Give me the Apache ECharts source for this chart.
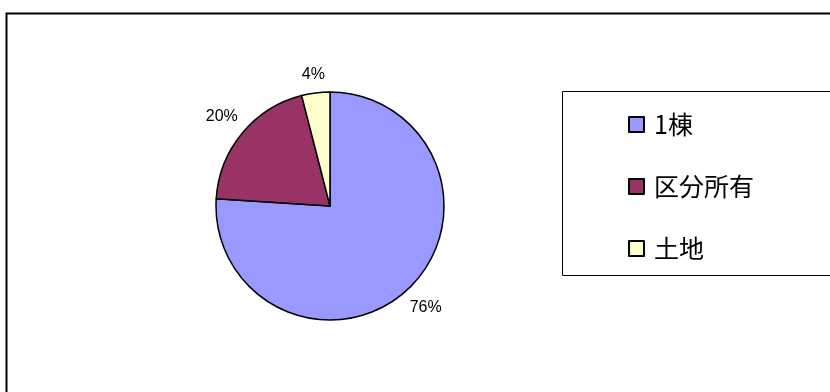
<!DOCTYPE html>
<html>
<head>
<meta charset="utf-8">
<script src="https://cdn.jsdelivr.net/npm/echarts@6/dist/echarts.min.js"></script>
<style>
html,body{margin:0;padding:0;background:#fff;}
#main{width:830px;height:392px;}
</style>
</head>
<body>
<div id="main"></div>
<script>
var categories = ['1棟', '区分所有', '土地'];
var values = [76, 20, 4];
var colors = ['#9999FF', '#993366', '#FFFFCC'];

var PIE_CX = 330, PIE_CY = 206, PIE_R = 114, LABEL_GAP = 9;
var total = values.reduce(function (a, b) { return a + b; }, 0);

var chart = echarts.init(document.getElementById('main'), null, {renderer: 'canvas'});
var data = categories.map(function (c, i) {
  return {name: c, value: values[i], itemStyle: {color: colors[i]}};
});
chart.setOption({
  animation: false,
  backgroundColor: '#fff',
  graphic: [
    {type: 'rect', shape: {x: 6.5, y: 13.5, width: 900, height: 500}, style: {fill: 'none', stroke: '#000', lineWidth: 2}, z: 0},
    {type: 'rect', shape: {x: 562.5, y: 91.5, width: 300, height: 184}, style: {fill: '#fff', stroke: '#000', lineWidth: 1}, z: 1}
  ],
  legend: {
    orient: 'vertical',
    left: 623,
    top: 107,
    itemWidth: 15,
    itemHeight: 15,
    itemGap: 37,
    icon: 'rect',
    z: 5,
    textStyle: {fontFamily: '"Noto Sans CJK JP", sans-serif', fontSize: 25, color: '#000', padding: [0, 0, 0, 5]},
    data: categories
  },
  series: [{
    type: 'pie',
    center: [PIE_CX, PIE_CY],
    radius: [0, PIE_R],
    startAngle: 90,
    clockwise: true,
    data: data,
    itemStyle: {borderColor: '#000', borderWidth: 1.5},
    label: {
      show: true,
      position: 'outside',
      formatter: '{c}%',
      fontFamily: '"Liberation Sans", Arial, sans-serif',
      fontSize: 16,
      color: '#000'
    },
    labelLine: {show: false, length: 14, length2: 0},
    labelLayout: function (params) {
      var idx = params.dataIndex;
      var cum = 0;
      for (var i = 0; i < idx; i++) cum += values[i];
      var mid = (90 - 360 * (cum + values[idx] / 2) / total) * Math.PI / 180;
      var c = Math.cos(mid), s = Math.sin(mid);
      var hw = params.labelRect.width / 2, hh = params.labelRect.height / 2;
      var d = PIE_R + LABEL_GAP + hw * Math.abs(c) + hh * Math.abs(s);
      return {x: PIE_CX + d * c, y: PIE_CY - d * s, align: 'center', verticalAlign: 'middle'};
    },
    emphasis: {disabled: true}
  }]
});
</script>
</body>
</html>
